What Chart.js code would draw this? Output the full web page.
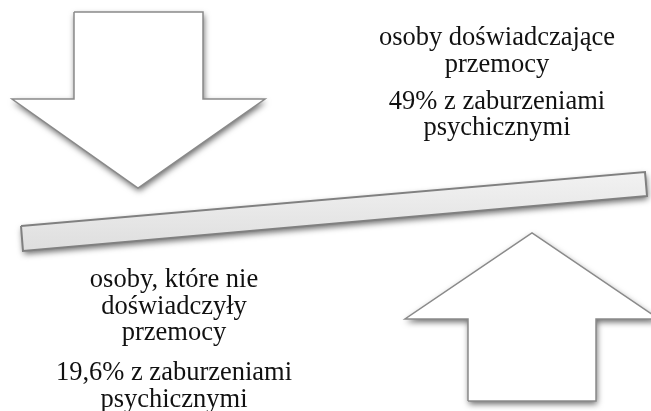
<!DOCTYPE html>
<html>
<head>
<meta charset="utf-8">
<script src="https://cdn.jsdelivr.net/npm/chart.js@4.4.0/dist/chart.umd.min.js"></script>
<style>
    body { margin: 0; background: #fff; }
    #wrap { width: 651px; height: 411px; }
</style>
</head>
<body>
<div id="wrap"><canvas id="balanceChart"></canvas></div>
<script>
// Wartości (odsetek osób z zaburzeniami psychicznymi)
const groups = ['osoby doświadczające przemocy', 'osoby, które nie doświadczyły przemocy'];
const shares = [49, 19.6];

// Kształty diagramu (współrzędne w jednostkach osi)
const downArrowX = [74, 203, 203, 265, 138, 12, 74, 74];
const downArrowY = [12, 12, 99, 99, 188, 99, 99, 12];
const upArrowX = [468, 596, 596, 659, 532, 405, 468, 468];
const upArrowY = [401, 401, 319, 319, 233, 319, 319, 401];
const beamX = [21, 645, 647, 23, 21];
const beamY = [226, 172, 196, 251, 226];

// Teksty
const topLines = ['osoby doświadczające', 'przemocy', shares[0] + '% z zaburzeniami', 'psychicznymi'];
const bottomLines = ['osoby, które nie', 'doświadczyły', 'przemocy',
    String(shares[1]).replace('.', ',') + '% z zaburzeniami', 'psychicznymi'];

function toPoints(xs, ys) {
    return xs.map((x, i) => ({ x: x, y: ys[i] }));
}

// Cień pod kształtami
const shadowPlugin = {
    id: 'shadowPlugin',
    beforeDatasetsDraw(chart) {
        const ctx = chart.ctx;
        chart.data.datasets.forEach((ds, i) => {
            const meta = chart.getDatasetMeta(i);
            ctx.save();
            ctx.shadowColor = 'rgba(0,0,0,0.6)';
            ctx.shadowBlur = 6;
            ctx.shadowOffsetX = 1;
            ctx.shadowOffsetY = 3;
            ctx.beginPath();
            meta.data.forEach((p, j) => {
                if (j === 0) ctx.moveTo(p.x, p.y); else ctx.lineTo(p.x, p.y);
            });
            ctx.closePath();
            ctx.fillStyle = '#ffffff';
            ctx.fill();
            ctx.restore();
        });
    }
};

// Podpisy
const textPlugin = {
    id: 'textPlugin',
    afterDatasetsDraw(chart) {
        const ctx = chart.ctx;
        const sx = chart.scales.x;
        const sy = chart.scales.y;
        ctx.save();
        ctx.fillStyle = '#111';
        ctx.textAlign = 'center';
        ctx.textBaseline = 'middle';
        ctx.font = '26.5px "Liberation Serif", "Times New Roman", serif';
        const topY = [38, 65, 102, 128];
        topLines.forEach((t, i) => ctx.fillText(t, sx.getPixelForValue(497), sy.getPixelForValue(topY[i])));
        const botY = [280, 307, 333, 373, 400];
        bottomLines.forEach((t, i) => ctx.fillText(t, sx.getPixelForValue(174), sy.getPixelForValue(botY[i])));
        ctx.restore();
    }
};

function beamFill(context) {
    const area = context.chart.chartArea;
    if (!area) return '#e5e5e5';
    const y = context.chart.scales.y;
    const g = context.chart.ctx.createLinearGradient(0, y.getPixelForValue(172), 0, y.getPixelForValue(251));
    g.addColorStop(0, '#f2f2f2');
    g.addColorStop(1, '#dedede');
    return g;
}

const ctx = document.getElementById('balanceChart').getContext('2d');
const balanceChart = new Chart(ctx, {
    type: 'line',
    data: {
        datasets: [{
            label: groups[0],
            data: toPoints(downArrowX, downArrowY),
            borderColor: '#8a8a8a',
            backgroundColor: '#ffffff',
            borderWidth: 1.5,
            fill: 'shape'
        }, {
            label: groups[1],
            data: toPoints(upArrowX, upArrowY),
            borderColor: '#8a8a8a',
            backgroundColor: '#ffffff',
            borderWidth: 1.5,
            fill: 'shape'
        }, {
            label: 'belka',
            data: toPoints(beamX, beamY),
            borderColor: '#808080',
            backgroundColor: beamFill,
            borderWidth: 2,
            fill: 'shape'
        }]
    },
    options: {
        responsive: true,
        maintainAspectRatio: false,
        animation: false,
        layout: { padding: 0 },
        elements: {
            point: { radius: 0, hoverRadius: 0 },
            line: { tension: 0, borderJoinStyle: 'miter' }
        },
        plugins: {
            legend: { display: false },
            tooltip: { enabled: false }
        },
        scales: {
            x: { type: 'linear', min: 0, max: 651, display: false },
            y: { type: 'linear', min: 0, max: 411, reverse: true, display: false }
        }
    },
    plugins: [shadowPlugin, textPlugin]
});
</script>
</body>
</html>
